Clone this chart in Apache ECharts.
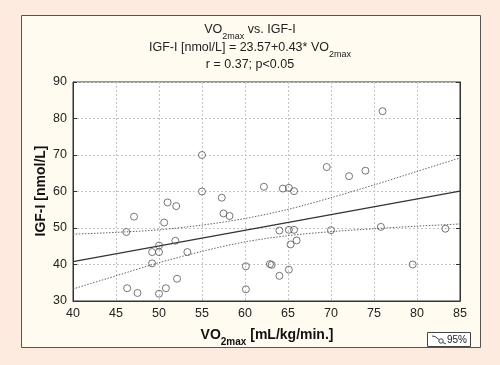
<!DOCTYPE html>
<html>
<head>
<meta charset="utf-8">
<script src="https://cdn.jsdelivr.net/npm/echarts@6/dist/echarts.min.js"></script>
<style>
html,body{margin:0;padding:0;background:#fdebdf;}
#c{width:500px;height:365px;}
</style>
</head>
<body>
<div id="c"></div>
<script>
// Data
var vo2max = [51, 52, 55, 55, 57.3, 62.2, 76, 69.5, 72.1, 74.0, 64.4, 65.1, 65.7, 47.1, 46.2, 50.6, 57.5, 58.2, 51.9, 50.0, 49.2, 50.0, 53.3, 49.2, 60.1, 62.9, 63.1, 52.1, 46.3, 47.5, 50.0, 50.8, 60.1, 64.0, 65.1, 65.7, 66.0, 65.3, 70.0, 75.8, 83.3, 79.5, 65.1, 64.0];
var igf1   = [57, 56, 70, 60, 58.3, 61.3, 82, 66.7, 64.2, 65.7, 60.8, 61.0, 60.1, 53.1, 48.9, 51.5, 54.0, 53.3, 46.5, 45.2, 43.4, 43.4, 43.4, 40.3, 39.5, 40.1, 39.9, 36.1, 33.5, 32.2, 32.0, 33.5, 33.2, 49.3, 49.5, 49.5, 46.6, 45.5, 49.4, 50.3, 49.8, 40.0, 38.6, 36.9];
var fitX   = [40, 85];
var fitY   = [40.77, 60.12];
var bandX  = [40, 45, 50, 55, 60, 65, 70, 75, 80, 85];
var bandUp = [48.3, 48.8, 49.5, 50.8, 52.6, 55.1, 58.3, 61.8, 65.5, 69.2];
var bandLo = [33.3, 36.9, 40.5, 43.6, 46.2, 47.9, 49.0, 49.8, 50.5, 51.1];
var xTicks = [40, 45, 50, 55, 60, 65, 70, 75, 80, 85];
var yTicks = [30, 40, 50, 60, 70, 80, 90];

function zip(a, b) { return a.map(function (v, i) { return [v, b[i]]; }); }

var FONT = '"Liberation Sans", Arial, sans-serif';
var chart = echarts.init(document.getElementById('c'), null, {renderer: 'canvas'});

var grid = {left: 73, right: 40, top: 82, bottom: 64, show: true, backgroundColor: '#ffffff', borderColor: '#333', borderWidth: 1, outerBoundsMode: 'none'};
var gridLine = {show: true, lineStyle: {color: '#c4c4c4', type: [2, 2], width: 1}};

chart.setOption({
  backgroundColor: '#fdebdf',
  animation: false,
  textStyle: {fontFamily: FONT},
  grid: grid,
  xAxis: {
    type: 'value', min: xTicks[0], max: xTicks[xTicks.length - 1], interval: 5,
    axisLine: {show: true, lineStyle: {color: '#333'}},
    axisTick: {show: false},
    axisLabel: {color: '#222', fontSize: 12.5, margin: 6, fontFamily: FONT},
    splitLine: gridLine
  },
  yAxis: [{
    type: 'value', min: yTicks[0], max: yTicks[yTicks.length - 1], interval: 10,
    axisLine: {show: true, lineStyle: {color: '#333'}},
    axisTick: {show: true, inside: true, length: 4, lineStyle: {color: '#333'}},
    axisLabel: {color: '#222', fontSize: 12.5, margin: 6, fontFamily: FONT},
    splitLine: gridLine
  }, {
    type: 'value', position: 'right', min: yTicks[0], max: yTicks[yTicks.length - 1], interval: 10,
    axisLine: {show: true, lineStyle: {color: '#333'}},
    axisTick: {show: true, inside: true, length: 4, lineStyle: {color: '#333'}},
    axisLabel: {show: false},
    splitLine: {show: false}
  }],
  series: [
    {
      type: 'line', data: zip(bandX, bandUp), smooth: 0.3, symbol: 'none',
      lineStyle: {color: '#666', width: 1, type: [1.5, 1.5]}, z: 3
    },
    {
      type: 'line', data: zip(bandX, bandLo), smooth: 0.3, symbol: 'none',
      lineStyle: {color: '#666', width: 1, type: [1.5, 1.5]}, z: 3
    },
    {
      type: 'line', data: zip(fitX, fitY), symbol: 'none',
      lineStyle: {color: '#333', width: 1.2}, z: 3
    },
    {
      type: 'scatter', data: zip(vo2max, igf1), symbol: 'circle', symbolSize: 7,
      itemStyle: {color: 'rgba(255,255,255,0)', borderColor: '#555', borderWidth: 1}, z: 4
    }
  ],
  graphic: [
    {type: 'rect', z: -100, shape: {x: 21.5, y: 15.5, width: 459, height: 332},
     style: {fill: '#fffbf0', stroke: '#555', lineWidth: 1}},
    {type: 'text', z: 100, x: 250, y: 30, style: {
      text: '{m|VO}{s|2max}{m| vs. IGF-I}', align: 'center', verticalAlign: 'middle',
      rich: {m: {fontSize: 12.5, fontFamily: FONT, fill: '#222', lineHeight: 16}, s: {fontSize: 9, fontFamily: FONT, fill: '#222', verticalAlign: 'bottom', lineHeight: 12, padding: [0, 0, -3, 0]}}}},
    {type: 'text', z: 100, x: 250, y: 48, style: {
      text: '{m|IGF-I [nmol/L] = 23.57+0.43* VO}{s|2max}', align: 'center', verticalAlign: 'middle',
      rich: {m: {fontSize: 12.5, fontFamily: FONT, fill: '#222', lineHeight: 16}, s: {fontSize: 9, fontFamily: FONT, fill: '#222', verticalAlign: 'bottom', lineHeight: 12, padding: [0, 0, -3, 0]}}}},
    {type: 'text', z: 100, x: 250, y: 65, style: {
      text: 'r = 0.37; p<0.05', align: 'center', verticalAlign: 'middle',
      fontSize: 12.5, fontFamily: FONT, fill: '#222'}},
    {type: 'text', z: 100, x: 267, y: 335, style: {
      text: '{m|VO}{s|2max}{m| [mL/kg/min.]}', align: 'center', verticalAlign: 'middle',
      rich: {m: {fontSize: 14, fontWeight: 'bold', fontFamily: FONT, fill: '#111', lineHeight: 18}, s: {fontSize: 10, fontWeight: 'bold', fontFamily: FONT, fill: '#111', verticalAlign: 'bottom', lineHeight: 14, padding: [0, 0, -3, 0]}}}},
    {type: 'text', z: 100, x: 41, y: 191, rotation: Math.PI / 2, style: {
      text: 'IGF-I [nmol/L]', align: 'center', verticalAlign: 'middle',
      fontSize: 14, fontWeight: 'bold', fontFamily: FONT, fill: '#111'}},
    {type: 'rect', z: 100, shape: {x: 427.5, y: 332.5, width: 43, height: 14},
     style: {fill: '#ffffff', stroke: '#444', lineWidth: 1}},
    {type: 'polyline', z: 101, shape: {points: [[432, 336], [435, 336.5], [439, 339.5]]},
     style: {stroke: '#444', lineWidth: 1, fill: null}},
    {type: 'circle', z: 101, shape: {cx: 441, cy: 341, r: 2.2},
     style: {stroke: '#444', lineWidth: 1, fill: '#fff'}},
    {type: 'line', z: 101, shape: {x1: 443, y1: 342.5, x2: 446, y2: 344},
     style: {stroke: '#444', lineWidth: 1}},
    {type: 'text', z: 101, x: 447, y: 340, style: {
      text: '95%', align: 'left', verticalAlign: 'middle',
      fontSize: 10, fontFamily: FONT, fill: '#222'}}
  ]
});
</script>
</body>
</html>
